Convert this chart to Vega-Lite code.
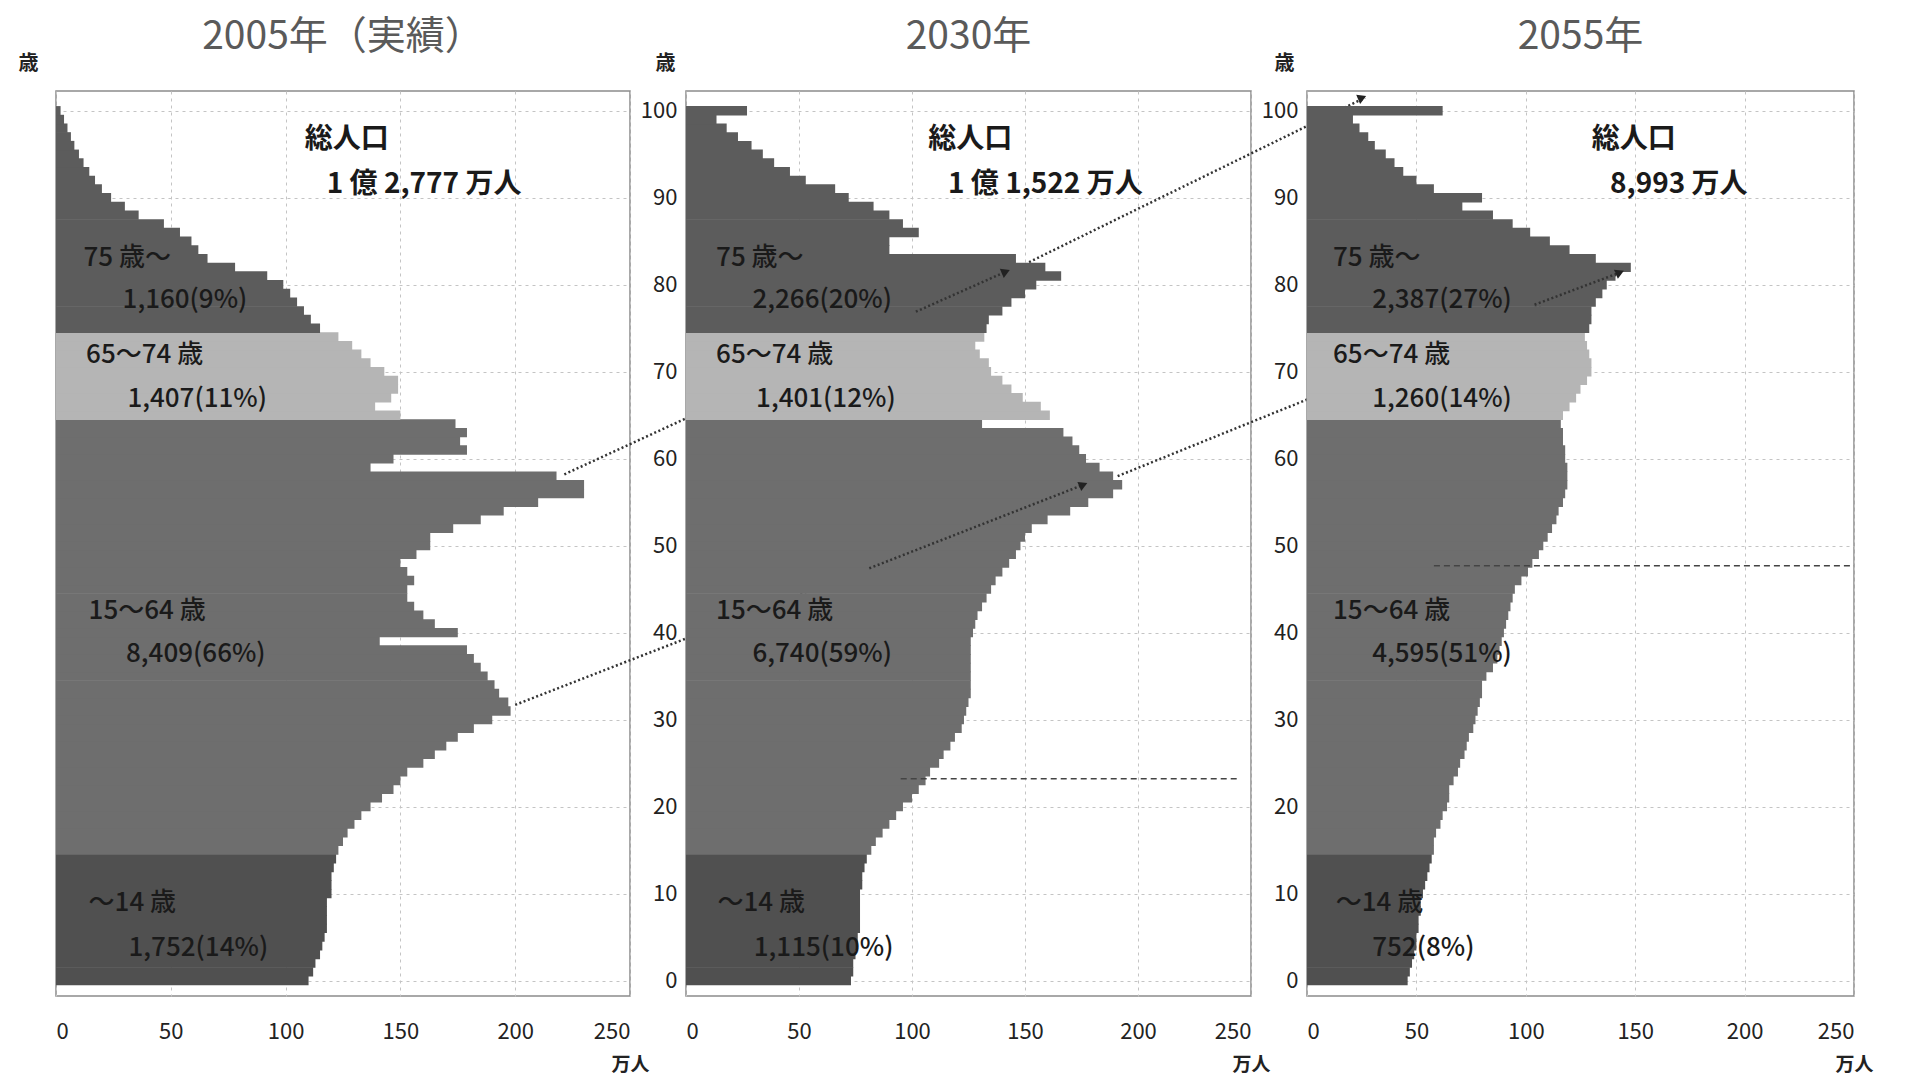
{
  "$schema": "https://vega.github.io/schema/vega-lite/v6.json",
  "background": "white",
  "padding": {"left": 17, "top": 17, "right": 5, "bottom": 5},
  "bounds": "flush",
  "spacing": 56,
  "config": {
    "font": "Noto Sans CJK JP",
    "view": {"stroke": "#8c8c8c", "strokeWidth": 1.5},
    "title": {"fontSize": 39, "color": "#5a5a5a", "fontWeight": "normal", "offset": -4, "anchor": "middle"},
    "axis": {"domain": false, "ticks": false, "tickSize": 0, "gridColor": "#c4c4c4", "gridDash": [3, 4], "gridWidth": 1, "labelFontSize": 22, "labelColor": "#222222", "titleColor": "#222222", "labelFont": "Noto Sans CJK JP"},
    "axisX": {"labelPadding": 25, "titleAnchor": "end", "titleAlign": "center", "titleBaseline": "middle", "titleY": 68, "titleFontSize": 19, "titleFontWeight": "bold"},
    "axisY": {"labelPadding": 9, "titleAngle": 0, "titleAlign": "center", "titleBaseline": "middle", "titleX": -24, "titleY": -28, "titleFontSize": 20, "titleFontWeight": "bold"}
  },
  "datasets": {
    "pop": [
      {"yr":2005,"a":0,"p":110},{"yr":2005,"a":1,"p":112},{"yr":2005,"a":2,"p":113},{"yr":2005,"a":3,"p":115},{"yr":2005,"a":4,"p":116},{"yr":2005,"a":5,"p":117},{"yr":2005,"a":6,"p":118},{"yr":2005,"a":7,"p":118},{"yr":2005,"a":8,"p":118},{"yr":2005,"a":9,"p":118},
      {"yr":2005,"a":10,"p":120},{"yr":2005,"a":11,"p":120},{"yr":2005,"a":12,"p":120},{"yr":2005,"a":13,"p":121},{"yr":2005,"a":14,"p":122},{"yr":2005,"a":15,"p":123},{"yr":2005,"a":16,"p":125},{"yr":2005,"a":17,"p":127},{"yr":2005,"a":18,"p":130},{"yr":2005,"a":19,"p":133},
      {"yr":2005,"a":20,"p":137},{"yr":2005,"a":21,"p":142},{"yr":2005,"a":22,"p":147},{"yr":2005,"a":23,"p":150},{"yr":2005,"a":24,"p":153},{"yr":2005,"a":25,"p":160},{"yr":2005,"a":26,"p":165},{"yr":2005,"a":27,"p":170},{"yr":2005,"a":28,"p":175},{"yr":2005,"a":29,"p":182},
      {"yr":2005,"a":30,"p":190},{"yr":2005,"a":31,"p":198},{"yr":2005,"a":32,"p":197},{"yr":2005,"a":33,"p":193},{"yr":2005,"a":34,"p":191},{"yr":2005,"a":35,"p":188},{"yr":2005,"a":36,"p":185},{"yr":2005,"a":37,"p":182},{"yr":2005,"a":38,"p":179},{"yr":2005,"a":39,"p":141},
      {"yr":2005,"a":40,"p":175},{"yr":2005,"a":41,"p":165},{"yr":2005,"a":42,"p":160},{"yr":2005,"a":43,"p":156},{"yr":2005,"a":44,"p":153},{"yr":2005,"a":45,"p":153},{"yr":2005,"a":46,"p":156},{"yr":2005,"a":47,"p":153},{"yr":2005,"a":48,"p":150},{"yr":2005,"a":49,"p":157},
      {"yr":2005,"a":50,"p":163},{"yr":2005,"a":51,"p":163},{"yr":2005,"a":52,"p":173},{"yr":2005,"a":53,"p":185},{"yr":2005,"a":54,"p":195},{"yr":2005,"a":55,"p":210},{"yr":2005,"a":56,"p":230},{"yr":2005,"a":57,"p":230},{"yr":2005,"a":58,"p":218},{"yr":2005,"a":59,"p":137},
      {"yr":2005,"a":60,"p":147},{"yr":2005,"a":61,"p":179},{"yr":2005,"a":62,"p":176},{"yr":2005,"a":63,"p":179},{"yr":2005,"a":64,"p":174},{"yr":2005,"a":65,"p":150},{"yr":2005,"a":66,"p":139},{"yr":2005,"a":67,"p":146},{"yr":2005,"a":68,"p":149},{"yr":2005,"a":69,"p":149},
      {"yr":2005,"a":70,"p":143},{"yr":2005,"a":71,"p":137},{"yr":2005,"a":72,"p":133},{"yr":2005,"a":73,"p":129},{"yr":2005,"a":74,"p":123},{"yr":2005,"a":75,"p":115},{"yr":2005,"a":76,"p":111},{"yr":2005,"a":77,"p":108},{"yr":2005,"a":78,"p":105},{"yr":2005,"a":79,"p":102},
      {"yr":2005,"a":80,"p":99},{"yr":2005,"a":81,"p":92},{"yr":2005,"a":82,"p":78},{"yr":2005,"a":83,"p":66},{"yr":2005,"a":84,"p":62},{"yr":2005,"a":85,"p":59},{"yr":2005,"a":86,"p":54},{"yr":2005,"a":87,"p":47},{"yr":2005,"a":88,"p":36},{"yr":2005,"a":89,"p":30},
      {"yr":2005,"a":90,"p":24},{"yr":2005,"a":91,"p":20},{"yr":2005,"a":92,"p":17},{"yr":2005,"a":93,"p":14.5},{"yr":2005,"a":94,"p":12},{"yr":2005,"a":95,"p":10},{"yr":2005,"a":96,"p":8},{"yr":2005,"a":97,"p":6.5},{"yr":2005,"a":98,"p":5},{"yr":2005,"a":99,"p":3.5},{"yr":2005,"a":100,"p":2},

      {"yr":2030,"a":0,"p":73},{"yr":2030,"a":1,"p":74},{"yr":2030,"a":2,"p":74},{"yr":2030,"a":3,"p":75},{"yr":2030,"a":4,"p":76},{"yr":2030,"a":5,"p":76},{"yr":2030,"a":6,"p":77},{"yr":2030,"a":7,"p":77},{"yr":2030,"a":8,"p":77},{"yr":2030,"a":9,"p":77},
      {"yr":2030,"a":10,"p":77},{"yr":2030,"a":11,"p":78},{"yr":2030,"a":12,"p":78},{"yr":2030,"a":13,"p":79},{"yr":2030,"a":14,"p":80},{"yr":2030,"a":15,"p":82},{"yr":2030,"a":16,"p":84},{"yr":2030,"a":17,"p":87},{"yr":2030,"a":18,"p":90},{"yr":2030,"a":19,"p":93},
      {"yr":2030,"a":20,"p":96},{"yr":2030,"a":21,"p":100},{"yr":2030,"a":22,"p":103},{"yr":2030,"a":23,"p":106},{"yr":2030,"a":24,"p":108},{"yr":2030,"a":25,"p":112},{"yr":2030,"a":26,"p":114},{"yr":2030,"a":27,"p":117},{"yr":2030,"a":28,"p":119},{"yr":2030,"a":29,"p":122},
      {"yr":2030,"a":30,"p":123},{"yr":2030,"a":31,"p":124},{"yr":2030,"a":32,"p":125},{"yr":2030,"a":33,"p":126},{"yr":2030,"a":34,"p":126},{"yr":2030,"a":35,"p":126},{"yr":2030,"a":36,"p":126},{"yr":2030,"a":37,"p":126},{"yr":2030,"a":38,"p":126},{"yr":2030,"a":39,"p":126},
      {"yr":2030,"a":40,"p":127},{"yr":2030,"a":41,"p":128},{"yr":2030,"a":42,"p":129},{"yr":2030,"a":43,"p":131},{"yr":2030,"a":44,"p":133},{"yr":2030,"a":45,"p":135},{"yr":2030,"a":46,"p":137},{"yr":2030,"a":47,"p":140},{"yr":2030,"a":48,"p":143},{"yr":2030,"a":49,"p":146},
      {"yr":2030,"a":50,"p":148},{"yr":2030,"a":51,"p":150},{"yr":2030,"a":52,"p":153},{"yr":2030,"a":53,"p":160},{"yr":2030,"a":54,"p":170},{"yr":2030,"a":55,"p":178},{"yr":2030,"a":56,"p":189},{"yr":2030,"a":57,"p":193},{"yr":2030,"a":58,"p":189},{"yr":2030,"a":59,"p":183},
      {"yr":2030,"a":60,"p":177},{"yr":2030,"a":61,"p":174},{"yr":2030,"a":62,"p":171},{"yr":2030,"a":63,"p":167},{"yr":2030,"a":64,"p":131},{"yr":2030,"a":65,"p":161},{"yr":2030,"a":66,"p":157},{"yr":2030,"a":67,"p":149},{"yr":2030,"a":68,"p":144},{"yr":2030,"a":69,"p":140},
      {"yr":2030,"a":70,"p":135},{"yr":2030,"a":71,"p":134},{"yr":2030,"a":72,"p":130},{"yr":2030,"a":73,"p":128},{"yr":2030,"a":74,"p":132},{"yr":2030,"a":75,"p":133},{"yr":2030,"a":76,"p":134},{"yr":2030,"a":77,"p":140},{"yr":2030,"a":78,"p":144},{"yr":2030,"a":79,"p":150},
      {"yr":2030,"a":80,"p":155},{"yr":2030,"a":81,"p":166},{"yr":2030,"a":82,"p":159},{"yr":2030,"a":83,"p":146},{"yr":2030,"a":84,"p":90},{"yr":2030,"a":85,"p":90},{"yr":2030,"a":86,"p":103},{"yr":2030,"a":87,"p":96},{"yr":2030,"a":88,"p":90},{"yr":2030,"a":89,"p":83},
      {"yr":2030,"a":90,"p":72},{"yr":2030,"a":91,"p":66},{"yr":2030,"a":92,"p":53},{"yr":2030,"a":93,"p":46},{"yr":2030,"a":94,"p":39},{"yr":2030,"a":95,"p":34},{"yr":2030,"a":96,"p":29},{"yr":2030,"a":97,"p":23},{"yr":2030,"a":98,"p":18},{"yr":2030,"a":99,"p":13.5},{"yr":2030,"a":100,"p":27},

      {"yr":2055,"a":0,"p":46},{"yr":2055,"a":1,"p":47},{"yr":2055,"a":2,"p":48},{"yr":2055,"a":3,"p":49},{"yr":2055,"a":4,"p":50},{"yr":2055,"a":5,"p":50},{"yr":2055,"a":6,"p":51},{"yr":2055,"a":7,"p":51},{"yr":2055,"a":8,"p":52},{"yr":2055,"a":9,"p":52},
      {"yr":2055,"a":10,"p":53},{"yr":2055,"a":11,"p":54},{"yr":2055,"a":12,"p":55},{"yr":2055,"a":13,"p":56},{"yr":2055,"a":14,"p":57},{"yr":2055,"a":15,"p":58},{"yr":2055,"a":16,"p":58},{"yr":2055,"a":17,"p":59},{"yr":2055,"a":18,"p":61},{"yr":2055,"a":19,"p":62},
      {"yr":2055,"a":20,"p":64},{"yr":2055,"a":21,"p":65},{"yr":2055,"a":22,"p":65},{"yr":2055,"a":23,"p":67},{"yr":2055,"a":24,"p":69},{"yr":2055,"a":25,"p":70},{"yr":2055,"a":26,"p":72},{"yr":2055,"a":27,"p":73},{"yr":2055,"a":28,"p":74},{"yr":2055,"a":29,"p":76},
      {"yr":2055,"a":30,"p":77},{"yr":2055,"a":31,"p":78},{"yr":2055,"a":32,"p":79},{"yr":2055,"a":33,"p":80},{"yr":2055,"a":34,"p":80},{"yr":2055,"a":35,"p":82},{"yr":2055,"a":36,"p":85},{"yr":2055,"a":37,"p":87},{"yr":2055,"a":38,"p":88},{"yr":2055,"a":39,"p":89},
      {"yr":2055,"a":40,"p":90},{"yr":2055,"a":41,"p":91},{"yr":2055,"a":42,"p":92},{"yr":2055,"a":43,"p":93},{"yr":2055,"a":44,"p":94},{"yr":2055,"a":45,"p":95},{"yr":2055,"a":46,"p":98},{"yr":2055,"a":47,"p":101},{"yr":2055,"a":48,"p":103},{"yr":2055,"a":49,"p":106},
      {"yr":2055,"a":50,"p":108},{"yr":2055,"a":51,"p":110},{"yr":2055,"a":52,"p":112},{"yr":2055,"a":53,"p":114},{"yr":2055,"a":54,"p":115},{"yr":2055,"a":55,"p":117},{"yr":2055,"a":56,"p":118},{"yr":2055,"a":57,"p":119},{"yr":2055,"a":58,"p":119},{"yr":2055,"a":59,"p":119},
      {"yr":2055,"a":60,"p":118},{"yr":2055,"a":61,"p":118},{"yr":2055,"a":62,"p":117},{"yr":2055,"a":63,"p":117},{"yr":2055,"a":64,"p":116},{"yr":2055,"a":65,"p":117},{"yr":2055,"a":66,"p":120},{"yr":2055,"a":67,"p":123},{"yr":2055,"a":68,"p":125},{"yr":2055,"a":69,"p":128},
      {"yr":2055,"a":70,"p":130},{"yr":2055,"a":71,"p":130},{"yr":2055,"a":72,"p":129},{"yr":2055,"a":73,"p":128},{"yr":2055,"a":74,"p":127},{"yr":2055,"a":75,"p":129},{"yr":2055,"a":76,"p":130},{"yr":2055,"a":77,"p":130},{"yr":2055,"a":78,"p":132},{"yr":2055,"a":79,"p":135},
      {"yr":2055,"a":80,"p":137},{"yr":2055,"a":81,"p":141},{"yr":2055,"a":82,"p":148},{"yr":2055,"a":83,"p":132},{"yr":2055,"a":84,"p":120},{"yr":2055,"a":85,"p":111},{"yr":2055,"a":86,"p":102},{"yr":2055,"a":87,"p":94},{"yr":2055,"a":88,"p":85},{"yr":2055,"a":89,"p":71},
      {"yr":2055,"a":90,"p":80},{"yr":2055,"a":91,"p":58},{"yr":2055,"a":92,"p":50},{"yr":2055,"a":93,"p":44},{"yr":2055,"a":94,"p":40},{"yr":2055,"a":95,"p":36},{"yr":2055,"a":96,"p":31},{"yr":2055,"a":97,"p":28},{"yr":2055,"a":98,"p":24},{"yr":2055,"a":99,"p":21},{"yr":2055,"a":100,"p":62}
    ],
    "totals": [
      {"yr":2005,"p":108.3,"a":96.6,"t":"総人口"},
      {"yr":2005,"p":117.9,"a":91.5,"t":"1 億 2,777 万人"},
      {"yr":2030,"p":107.2,"a":96.6,"t":"総人口"},
      {"yr":2030,"p":115.9,"a":91.5,"t":"1 億 1,522 万人"},
      {"yr":2055,"p":130.1,"a":96.6,"t":"総人口"},
      {"yr":2055,"p":138.5,"a":91.5,"t":"8,993 万人"}
    ],
    "groups": [
      {"yr":2005,"p":12.0,"a":83.1,"t":"75 歳～"},
      {"yr":2005,"p":29.0,"a":78.2,"t":"1,160(9%)"},
      {"yr":2005,"p":13.1,"a":71.9,"t":"65～74 歳"},
      {"yr":2005,"p":31.1,"a":66.9,"t":"1,407(11%)"},
      {"yr":2005,"p":14.2,"a":42.5,"t":"15～64 歳"},
      {"yr":2005,"p":30.5,"a":37.5,"t":"8,409(66%)"},
      {"yr":2005,"p":14.2,"a":8.95,"t":"～14 歳"},
      {"yr":2005,"p":31.6,"a":3.7,"t":"1,752(14%)"},
      {"yr":2030,"p":13.3,"a":83.1,"t":"75 歳～"},
      {"yr":2030,"p":29.4,"a":78.2,"t":"2,266(20%)"},
      {"yr":2030,"p":13.3,"a":71.9,"t":"65～74 歳"},
      {"yr":2030,"p":31.0,"a":66.9,"t":"1,401(12%)"},
      {"yr":2030,"p":13.3,"a":42.5,"t":"15～64 歳"},
      {"yr":2030,"p":29.4,"a":37.5,"t":"6,740(59%)"},
      {"yr":2030,"p":13.9,"a":8.95,"t":"～14 歳"},
      {"yr":2030,"p":30.0,"a":3.7,"t":"1,115(10%)"},
      {"yr":2055,"p":11.9,"a":83.1,"t":"75 歳～"},
      {"yr":2055,"p":29.8,"a":78.2,"t":"2,387(27%)"},
      {"yr":2055,"p":11.9,"a":71.9,"t":"65～74 歳"},
      {"yr":2055,"p":29.8,"a":66.9,"t":"1,260(14%)"},
      {"yr":2055,"p":11.9,"a":42.5,"t":"15～64 歳"},
      {"yr":2055,"p":29.8,"a":37.5,"t":"4,595(51%)"},
      {"yr":2055,"p":13.1,"a":8.95,"t":"～14 歳"},
      {"yr":2055,"p":29.8,"a":3.7,"t":"752(8%)"}
    ],
    "arrows": [
      {"yr":2005,"p":221.4,"a":58.2,"p2":412.9,"a2":81.45},
      {"yr":2005,"p":200.0,"a":31.7,"p2":446.9,"a2":57.0},
      {"yr":2030,"p":101.7,"a":76.9,"p2":141.5,"a2":81.5},
      {"yr":2030,"p":81.1,"a":47.4,"p2":175.8,"a2":57.0},
      {"yr":2030,"p":151.8,"a":82.6,"p2":300.4,"a2":101.5},
      {"yr":2030,"p":191.0,"a":58.0,"p2":413.4,"a2":81.35},
      {"yr":2055,"p":104.0,"a":77.7,"p2":143.0,"a2":81.4}
    ],
    "heads": [
      {"yr":2030,"p":141.5,"a":81.5},
      {"yr":2030,"p":175.8,"a":57.0},
      {"yr":2055,"p":25.2,"a":101.5},
      {"yr":2055,"p":143.0,"a":81.4}
    ],
    "levels": [
      {"yr":2030,"p":95,"a":23.2,"p2":245},
      {"yr":2055,"p":58,"a":47.7,"p2":250}
    ]
  },
  "hconcat": [
    {
      "width": 574, "height": 905,
      "title": {"text": "2005年（実績）"},
      "layer": [
        {
          "data": {"name": "pop"},
          "transform": [{"filter": "datum.yr == 2005"}],
          "mark": {"type": "bar", "orient": "horizontal", "size": 9.4},
          "encoding": {
            "x": {"field": "p", "type": "quantitative", "title": "万人", "scale": {"domain": [0, 250], "nice": false}, "axis": {"values": [0, 50, 100, 150, 200, 250]}},
            "y": {"field": "a", "type": "quantitative", "title": "歳", "scale": {"domain": [-1.2, 101.7], "nice": false, "zero": false}, "axis": {"values": [0, 10, 20, 30, 40, 50, 60, 70, 80, 90, 100], "labels": false, "titleX": -28}},
            "color": {"condition": [{"test": "datum.a >= 75", "value": "#5c5c5c"}, {"test": "datum.a >= 65", "value": "#b5b5b5"}, {"test": "datum.a >= 15", "value": "#6e6e6e"}], "value": "#505050"}
          }
        },
        {
          "data": {"name": "arrows"},
          "transform": [{"filter": "datum.yr == 2005"}],
          "mark": {"type": "rule", "strokeDash": [2, 2.5], "strokeWidth": 2.5, "color": "#333333"},
          "encoding": {"x": {"field": "p", "type": "quantitative", "title": "万人"}, "y": {"field": "a", "type": "quantitative", "title": "歳"}, "x2": {"field": "p2"}, "y2": {"field": "a2"}}
        },
        {
          "data": {"name": "totals"},
          "transform": [{"filter": "datum.yr == 2005"}],
          "mark": {"type": "text", "align": "left", "baseline": "middle", "fontSize": 28, "fontWeight": "bold", "color": "#1a1a1a"},
          "encoding": {"x": {"field": "p", "type": "quantitative", "title": "万人"}, "y": {"field": "a", "type": "quantitative", "title": "歳"}, "text": {"field": "t"}}
        },
        {
          "data": {"name": "groups"},
          "transform": [{"filter": "datum.yr == 2005"}],
          "mark": {"type": "text", "align": "left", "baseline": "middle", "fontSize": 26, "fontWeight": 500, "color": "#1a1a1a"},
          "encoding": {"x": {"field": "p", "type": "quantitative", "title": "万人"}, "y": {"field": "a", "type": "quantitative", "title": "歳"}, "text": {"field": "t"}}
        }
      ]
    },
    {
      "width": 565, "height": 905,
      "title": {"text": "2030年"},
      "layer": [
        {
          "data": {"name": "pop"},
          "transform": [{"filter": "datum.yr == 2030"}],
          "mark": {"type": "bar", "orient": "horizontal", "size": 9.4},
          "encoding": {
            "x": {"field": "p", "type": "quantitative", "title": "万人", "scale": {"domain": [0, 250], "nice": false}, "axis": {"values": [0, 50, 100, 150, 200, 250]}},
            "y": {"field": "a", "type": "quantitative", "title": "歳", "scale": {"domain": [-1.2, 101.7], "nice": false, "zero": false}, "axis": {"values": [0, 10, 20, 30, 40, 50, 60, 70, 80, 90, 100], "titleX": -21}},
            "color": {"condition": [{"test": "datum.a >= 75", "value": "#5c5c5c"}, {"test": "datum.a >= 65", "value": "#b5b5b5"}, {"test": "datum.a >= 15", "value": "#6e6e6e"}], "value": "#505050"}
          }
        },
        {
          "data": {"name": "levels"},
          "transform": [{"filter": "datum.yr == 2030"}],
          "mark": {"type": "rule", "strokeDash": [6, 4], "strokeWidth": 1.6, "color": "#444444"},
          "encoding": {"x": {"field": "p", "type": "quantitative", "title": "万人"}, "y": {"field": "a", "type": "quantitative", "title": "歳"}, "x2": {"field": "p2"}}
        },
        {
          "data": {"name": "arrows"},
          "transform": [{"filter": "datum.yr == 2030"}],
          "mark": {"type": "rule", "strokeDash": [2, 2.5], "strokeWidth": 2.5, "color": "#333333"},
          "encoding": {"x": {"field": "p", "type": "quantitative", "title": "万人"}, "y": {"field": "a", "type": "quantitative", "title": "歳"}, "x2": {"field": "p2"}, "y2": {"field": "a2"}}
        },
        {
          "data": {"name": "heads"},
          "transform": [{"filter": "datum.yr == 2030"}],
          "mark": {"type": "point", "shape": "triangle-right", "filled": true, "size": 100, "angle": -23, "color": "#222222", "opacity": 1},
          "encoding": {"x": {"field": "p", "type": "quantitative", "title": "万人"}, "y": {"field": "a", "type": "quantitative", "title": "歳"}}
        },
        {
          "data": {"name": "totals"},
          "transform": [{"filter": "datum.yr == 2030"}],
          "mark": {"type": "text", "align": "left", "baseline": "middle", "fontSize": 28, "fontWeight": "bold", "color": "#1a1a1a"},
          "encoding": {"x": {"field": "p", "type": "quantitative", "title": "万人"}, "y": {"field": "a", "type": "quantitative", "title": "歳"}, "text": {"field": "t"}}
        },
        {
          "data": {"name": "groups"},
          "transform": [{"filter": "datum.yr == 2030"}],
          "mark": {"type": "text", "align": "left", "baseline": "middle", "fontSize": 26, "fontWeight": 500, "color": "#1a1a1a"},
          "encoding": {"x": {"field": "p", "type": "quantitative", "title": "万人"}, "y": {"field": "a", "type": "quantitative", "title": "歳"}, "text": {"field": "t"}}
        }
      ]
    },
    {
      "width": 547, "height": 905,
      "title": {"text": "2055年"},
      "layer": [
        {
          "data": {"name": "pop"},
          "transform": [{"filter": "datum.yr == 2055"}],
          "mark": {"type": "bar", "orient": "horizontal", "size": 9.4},
          "encoding": {
            "x": {"field": "p", "type": "quantitative", "title": "万人", "scale": {"domain": [0, 250], "nice": false}, "axis": {"values": [0, 50, 100, 150, 200, 250]}},
            "y": {"field": "a", "type": "quantitative", "title": "歳", "scale": {"domain": [-1.2, 101.7], "nice": false, "zero": false}, "axis": {"values": [0, 10, 20, 30, 40, 50, 60, 70, 80, 90, 100], "titleX": -23}},
            "color": {"condition": [{"test": "datum.a >= 75", "value": "#5c5c5c"}, {"test": "datum.a >= 65", "value": "#b5b5b5"}, {"test": "datum.a >= 15", "value": "#6e6e6e"}], "value": "#505050"}
          }
        },
        {
          "data": {"name": "levels"},
          "transform": [{"filter": "datum.yr == 2055"}],
          "mark": {"type": "rule", "strokeDash": [6, 4], "strokeWidth": 1.6, "color": "#444444"},
          "encoding": {"x": {"field": "p", "type": "quantitative", "title": "万人"}, "y": {"field": "a", "type": "quantitative", "title": "歳"}, "x2": {"field": "p2"}}
        },
        {
          "data": {"name": "arrows"},
          "transform": [{"filter": "datum.yr == 2055"}],
          "mark": {"type": "rule", "strokeDash": [2, 2.5], "strokeWidth": 2.5, "color": "#333333"},
          "encoding": {"x": {"field": "p", "type": "quantitative", "title": "万人"}, "y": {"field": "a", "type": "quantitative", "title": "歳"}, "x2": {"field": "p2"}, "y2": {"field": "a2"}}
        },
        {
          "data": {"name": "heads"},
          "transform": [{"filter": "datum.yr == 2055"}],
          "mark": {"type": "point", "shape": "triangle-right", "filled": true, "size": 100, "angle": -23, "color": "#222222", "opacity": 1},
          "encoding": {"x": {"field": "p", "type": "quantitative", "title": "万人"}, "y": {"field": "a", "type": "quantitative", "title": "歳"}}
        },
        {
          "data": {"name": "totals"},
          "transform": [{"filter": "datum.yr == 2055"}],
          "mark": {"type": "text", "align": "left", "baseline": "middle", "fontSize": 28, "fontWeight": "bold", "color": "#1a1a1a"},
          "encoding": {"x": {"field": "p", "type": "quantitative", "title": "万人"}, "y": {"field": "a", "type": "quantitative", "title": "歳"}, "text": {"field": "t"}}
        },
        {
          "data": {"name": "groups"},
          "transform": [{"filter": "datum.yr == 2055"}],
          "mark": {"type": "text", "align": "left", "baseline": "middle", "fontSize": 26, "fontWeight": 500, "color": "#1a1a1a"},
          "encoding": {"x": {"field": "p", "type": "quantitative", "title": "万人"}, "y": {"field": "a", "type": "quantitative", "title": "歳"}, "text": {"field": "t"}}
        }
      ]
    }
  ]
}
